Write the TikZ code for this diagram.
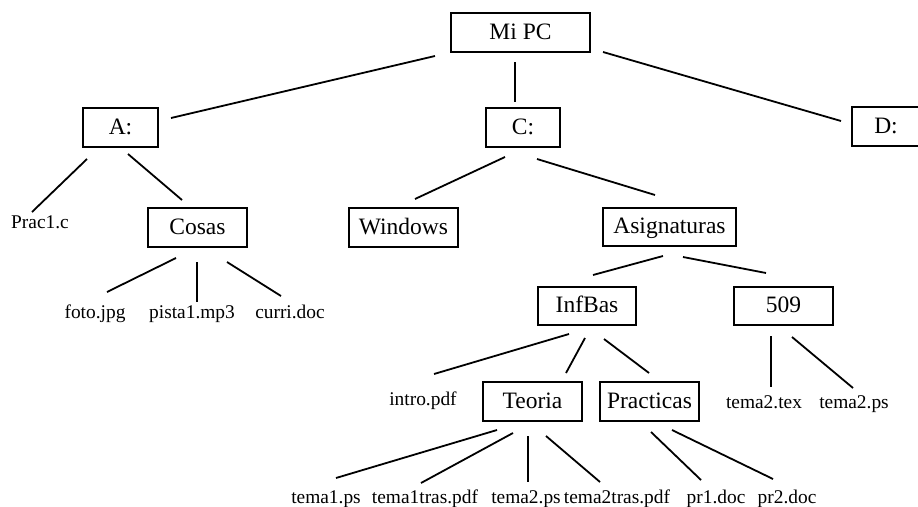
\documentclass[tikz,border=0pt]{standalone}
\usepackage{fontspec}
\setmainfont{Liberation Serif}
\begin{document}
\begin{tikzpicture}[x=1pt,y=-1pt,
  box/.style={draw,line width=1.8pt,inner sep=0pt,minimum height=38.5pt,
    text height=17pt,text depth=4pt,font=\fontsize{23.5}{26}\selectfont},
  file/.style={inner sep=0pt,text height=14pt,text depth=4pt,
    font=\fontsize{19.4}{22}\selectfont},
  link/.style={line width=1.8pt}]
\useasboundingbox (0,0) rectangle (918,506);
\fill[white] (0,0) rectangle (918,506);
\clip (0,0) rectangle (918,506);
% boxes
\node[box,minimum width=139pt] (mipc) at (520.5,32.5) {Mi PC};
\node[box,minimum width=75pt] (A) at (120.5,127.5) {A:};
\node[box,minimum width=74pt] (C) at (523,127.5) {C:};
\node[box,minimum width=70pt] (D) at (887,126.5) {\hspace*{-2pt}D:};
\node[box,minimum width=99pt] (cosas) at (197.5,227.5) {Cosas};
\node[box,minimum width=109pt] (windows) at (403.5,227.5) {Windows};
\node[box,minimum width=133pt] (asig) at (669.5,227) {Asignaturas};
\node[box,minimum width=98pt] (infbas) at (587,306) {InfBas};
\node[box,minimum width=99pt] (n509) at (783.5,306) {509};
\node[box,minimum width=99pt] (teoria) at (532.5,401.5) {Teoria};
\node[box,minimum width=99pt] (practicas) at (649.5,401.5) {Practicas};
% files
\node[file] (prac) at (40,223) {Prac1.c};
\node[file] (foto) at (95,313) {foto.jpg};
\node[file] (pista) at (192,313) {pista1.mp3};
\node[file] (curri) at (290,313) {curri.doc};
\node[file] (intro) at (423,400) {intro.pdf};
\node[file] (ttex) at (764,403) {tema2.tex};
\node[file] (tps) at (854,403) {tema2.ps};
\node[file] (tema1ps) at (326,498) {tema1.ps};
\node[file] (tema1tras) at (425,498) {tema1tras.pdf};
\node[file] (tema2ps) at (526,498) {tema2.ps};
\node[file] (tema2tras) at (617,498) {tema2tras.pdf};
\node[file] (pr1) at (716,498) {pr1.doc};
\node[file] (pr2) at (787,498) {pr2.doc};
% connectors
\draw[link] ([shift={(-85.5,23.5)}]mipc.center) -- ([shift={(50.5,-9.5)}]A.center);
\draw[link] ([shift={(-5.5,29.5)}]mipc.center) -- ([shift={(-8,-25.5)}]C.center);
\draw[link] ([shift={(82.5,19.5)}]mipc.center) -- ([shift={(-46,-5.5)}]D.center);
\draw[link] ([shift={(-33.5,31.5)}]A.center) -- ([shift={(-8,-11)}]prac.center);
\draw[link] ([shift={(7.5,26.5)}]A.center) -- ([shift={(-15.5,-27.5)}]cosas.center);
\draw[link] ([shift={(-18,29.5)}]C.center) -- ([shift={(11.5,-28.5)}]windows.center);
\draw[link] ([shift={(14,31.5)}]C.center) -- ([shift={(-14.5,-32)}]asig.center);
\draw[link] ([shift={(-21.5,30.5)}]cosas.center) -- ([shift={(12,-21)}]foto.center);
\draw[link] ([shift={(-0.5,34.5)}]cosas.center) -- ([shift={(5,-11)}]pista.center);
\draw[link] ([shift={(29.5,34.5)}]cosas.center) -- ([shift={(-9,-17)}]curri.center);
\draw[link] ([shift={(-6.5,29)}]asig.center) -- ([shift={(6,-31)}]infbas.center);
\draw[link] ([shift={(13.5,30)}]asig.center) -- ([shift={(-17.5,-33)}]n509.center);
\draw[link] ([shift={(-18,28)}]infbas.center) -- ([shift={(11,-26)}]intro.center);
\draw[link] ([shift={(-2,32)}]infbas.center) -- ([shift={(33.5,-28.5)}]teoria.center);
\draw[link] ([shift={(17,33)}]infbas.center) -- ([shift={(-0.5,-28.5)}]practicas.center);
\draw[link] ([shift={(-12.5,30)}]n509.center) -- ([shift={(7,-16)}]ttex.center);
\draw[link] ([shift={(8.5,31)}]n509.center) -- ([shift={(-1,-15)}]tps.center);
\draw[link] ([shift={(-35.5,28.5)}]teoria.center) -- ([shift={(10,-20)}]tema1ps.center);
\draw[link] ([shift={(-19.5,31.5)}]teoria.center) -- ([shift={(-4,-15)}]tema1tras.center);
\draw[link] ([shift={(-4.5,34.5)}]teoria.center) -- ([shift={(2,-16)}]tema2ps.center);
\draw[link] ([shift={(13.5,34.5)}]teoria.center) -- ([shift={(-17,-16)}]tema2tras.center);
\draw[link] ([shift={(1.5,30.5)}]practicas.center) -- ([shift={(-15,-18)}]pr1.center);
\draw[link] ([shift={(22.5,28.5)}]practicas.center) -- ([shift={(-14,-19)}]pr2.center);
\end{tikzpicture}
\end{document}
